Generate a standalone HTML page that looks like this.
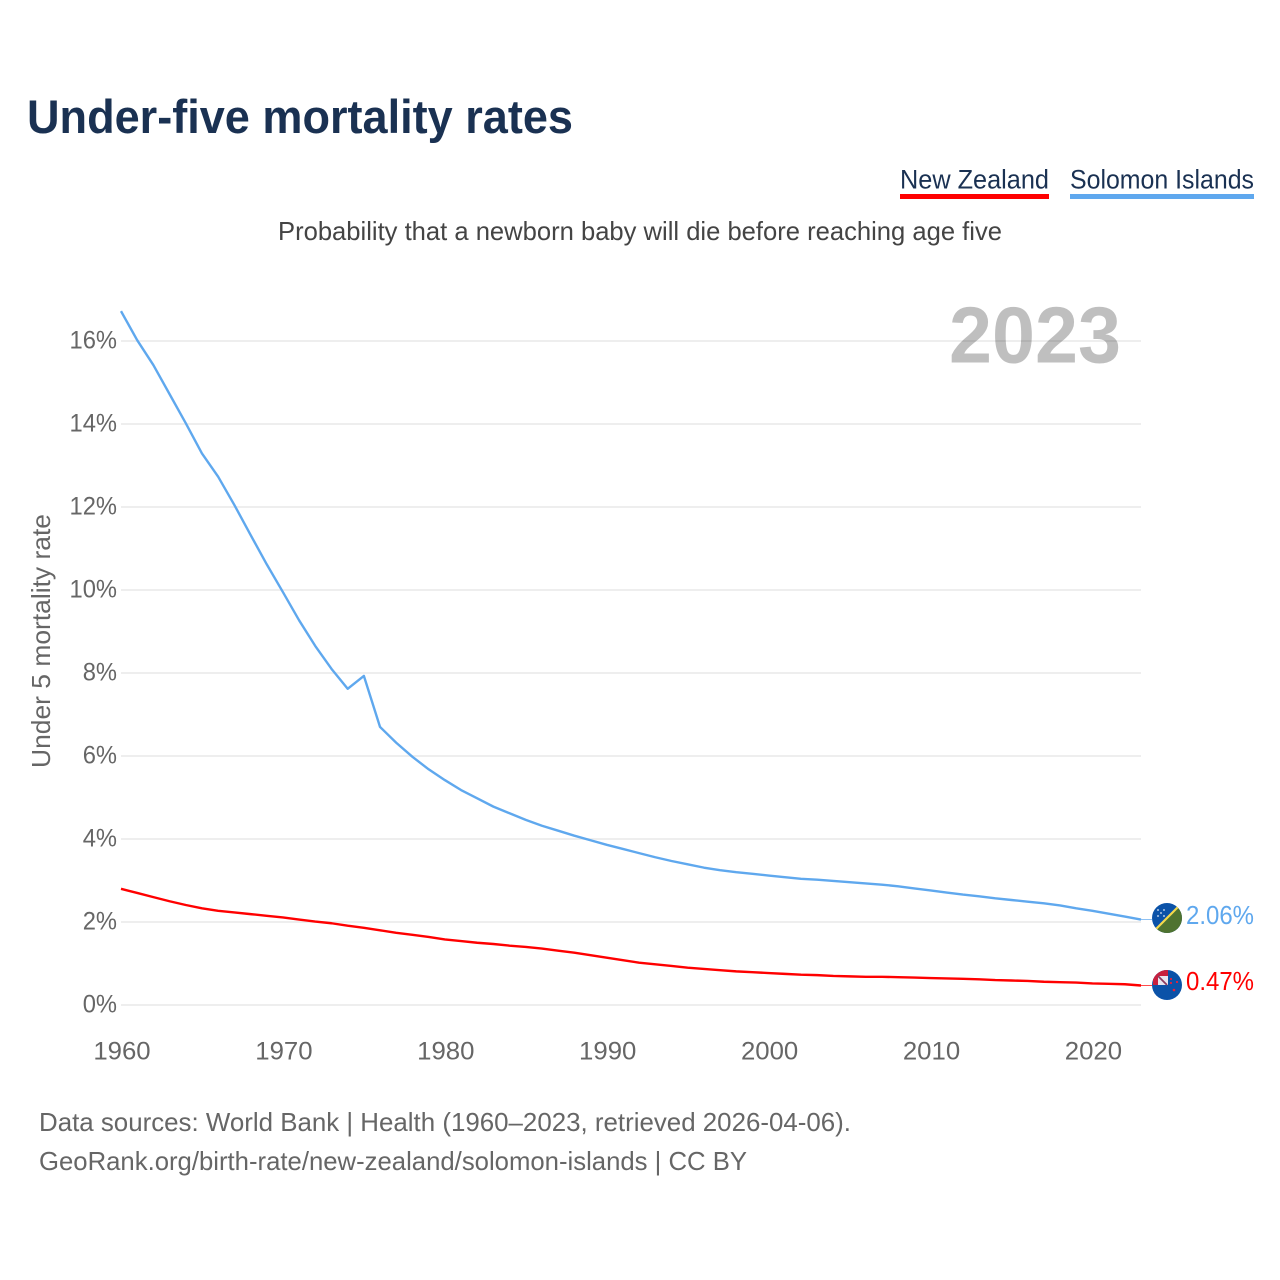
<!DOCTYPE html>
<html lang="en">
<head>
<meta charset="utf-8">
<title>Under-five mortality rates</title>
<style>
html,body{margin:0;padding:0;background:#fff;width:1280px;height:1280px;overflow:hidden}
svg{display:block;font-family:"Liberation Sans",sans-serif}
</style>
</head>
<body>
<svg id="chart" xmlns="http://www.w3.org/2000/svg" width="1280" height="1280" viewBox="0 0 1280 1280">
  <defs>
    <clipPath id="clip-si"><circle cx="1167" cy="918" r="15"/></clipPath>
    <clipPath id="clip-nz"><circle cx="1167" cy="985" r="15"/></clipPath>
  </defs>
  <text x="27" y="133" font-size="47" font-weight="700" fill="#1a3152" textLength="546" lengthAdjust="spacingAndGlyphs">Under-five mortality rates</text>
  <g>
    <text x="900" y="188.5" font-size="27" fill="#1a3152" textLength="149" lengthAdjust="spacingAndGlyphs">New Zealand</text>
    <rect x="900" y="194" width="149" height="5" fill="#ff0000"/>
  </g>
  <g>
    <text x="1070" y="188.5" font-size="27" fill="#1a3152" textLength="184" lengthAdjust="spacingAndGlyphs">Solomon Islands</text>
    <rect x="1070" y="194" width="184" height="5" fill="#5fa8ee"/>
  </g>
  <text x="278" y="240" font-size="26" fill="#444" textLength="724" lengthAdjust="spacingAndGlyphs">Probability that a newborn baby will die before reaching age five</text>
  <g id="grid"></g>
  <g id="yticks"></g>
  <g id="xticks"></g>
  <text transform="translate(50,768) rotate(-90)" font-size="26" fill="#666" textLength="254" lengthAdjust="spacingAndGlyphs">Under 5 mortality rate</text>
  <text x="949" y="362.5" font-size="80" font-weight="700" fill="#000000" fill-opacity="0.25" textLength="172" lengthAdjust="spacingAndGlyphs">2023</text>
  <g id="series"></g>
  <g clip-path="url(#clip-si)">
    <rect x="1152" y="903" width="30" height="30" fill="#0b52a8"/>
    <polygon points="1182,903 1182,933 1152,933" fill="#4f7330"/>
    <line x1="1151" y1="934" x2="1183" y2="902" stroke="#f5d94c" stroke-width="2.2"/>
    <g fill="#dfe8f5">
      <circle cx="1158" cy="910" r="0.9"/><circle cx="1164" cy="910" r="0.9"/><circle cx="1161" cy="913" r="0.9"/><circle cx="1158" cy="916" r="0.9"/><circle cx="1164" cy="916" r="0.9"/>
    </g>
  </g>
  <g clip-path="url(#clip-nz)">
    <rect x="1152" y="970" width="30" height="30" fill="#0b52a8"/>
    <rect x="1153" y="970" width="15" height="15" fill="#c8203e"/>
    <rect x="1158" y="976" width="10" height="9" fill="#e8e6ef"/>
    <line x1="1158" y1="976" x2="1167" y2="985" stroke="#8a3a60" stroke-width="1.8"/>
    <g fill="#e8203a">
      <circle cx="1171" cy="979" r="1.1"/><circle cx="1177" cy="982" r="1.1"/><circle cx="1171" cy="983" r="1.1"/><circle cx="1174" cy="990" r="1.3"/>
    </g>
  </g>
  <text x="1186" y="924" font-size="26" fill="#5fa8ee" textLength="68" lengthAdjust="spacingAndGlyphs">2.06%</text>
  <text x="1186" y="990" font-size="26" fill="#ff0000" textLength="68" lengthAdjust="spacingAndGlyphs">0.47%</text>
  <text x="39" y="1131" font-size="26" fill="#666" textLength="812" lengthAdjust="spacingAndGlyphs">Data sources: World Bank | Health (1960–2023, retrieved 2026-04-06).</text>
  <text x="39" y="1170" font-size="26" fill="#666" textLength="708" lengthAdjust="spacingAndGlyphs">GeoRank.org/birth-rate/new-zealand/solomon-islands | CC BY</text>
</svg>
<script>
const firstYear = 1960;
const xTickYears = [1960, 1970, 1980, 1990, 2000, 2010, 2020];
const yTickValues = [0, 2, 4, 6, 8, 10, 12, 14, 16];
const solomonIslands = [16.72,16.02,15.42,14.72,14.02,13.29,12.73,12.05,11.33,10.62,9.95,9.27,8.65,8.10,7.62,7.93,6.70,6.32,5.98,5.68,5.42,5.18,4.98,4.78,4.62,4.46,4.32,4.20,4.08,3.97,3.86,3.76,3.66,3.56,3.47,3.39,3.31,3.25,3.20,3.16,3.12,3.08,3.04,3.02,2.99,2.96,2.93,2.90,2.86,2.81,2.76,2.71,2.66,2.62,2.57,2.53,2.49,2.45,2.40,2.33,2.27,2.20,2.13,2.06];
const newZealand = [2.80,2.70,2.60,2.50,2.41,2.33,2.27,2.23,2.19,2.15,2.11,2.06,2.01,1.97,1.91,1.86,1.80,1.74,1.69,1.64,1.58,1.54,1.50,1.47,1.43,1.40,1.36,1.31,1.26,1.20,1.14,1.08,1.02,0.98,0.94,0.90,0.87,0.84,0.81,0.79,0.77,0.75,0.73,0.72,0.70,0.69,0.68,0.68,0.67,0.66,0.65,0.64,0.63,0.62,0.60,0.59,0.58,0.56,0.55,0.54,0.52,0.51,0.50,0.47];

const NS = 'http://www.w3.org/2000/svg';
function xScale(year) { return 121 + (year - 1960) * (1141 - 121) / 63; }
function yScale(v) { return 1005 - v * 41.5; }
function make(tag, attrs, parent, text) {
  const el = document.createElementNS(NS, tag);
  for (const k in attrs) el.setAttribute(k, attrs[k]);
  if (text !== undefined) el.textContent = text;
  parent.appendChild(el);
  return el;
}
const grid = document.getElementById('grid');
const yticks = document.getElementById('yticks');
const xticks = document.getElementById('xticks');
const series = document.getElementById('series');

yTickValues.forEach(function (v) {
  const line = make('line', {x1: 121, x2: 1141, y1: yScale(v), y2: yScale(v), stroke: '#eeeeee', 'stroke-width': 2}, grid);
  
  
  const label = make('text', {x: 117, y: yScale(v) + 7.7, 'text-anchor': 'end', 'font-size': 25, fill: '#666'}, yticks, v + '%');
  
  
  label.setAttribute('textLength', (label.getComputedTextLength() * 0.95).toFixed(1));
  label.setAttribute('lengthAdjust', 'spacingAndGlyphs');
});
xTickYears.forEach(function (y) {
  const label = make('text', {x: xScale(y) + 1, y: 1059.5, 'text-anchor': 'middle', 'font-size': 25, fill: '#666'}, xticks, y);
  
  
  label.setAttribute('textLength', (label.getComputedTextLength() * 1.03).toFixed(1));
  label.setAttribute('lengthAdjust', 'spacingAndGlyphs');
});
function drawLine(values, color) {
  const d = values.map(function (v, i) {
    return (i ? 'L' : 'M') + xScale(firstYear + i).toFixed(2) + ' ' + yScale(v).toFixed(2);
  }).join('');
  return make('path', {d: d, fill: 'none', stroke: color, 'stroke-width': 2.4, 'stroke-linejoin': 'round'}, series);
}
function drawLeader(values, color) {
  const last = yScale(values[values.length - 1]);
  return make('line', {x1: xScale(firstYear + values.length - 1), y1: last, x2: 1152, y2: last, stroke: color, 'stroke-width': 1, opacity: 0.7}, series);
}
const nzLine = drawLine(newZealand, '#ff0000');


const siLine = drawLine(solomonIslands, '#5fa8ee');


const nzLeader = drawLeader(newZealand, '#ff0000');


const siLeader = drawLeader(solomonIslands, '#5fa8ee');


</script>
</body>
</html>
